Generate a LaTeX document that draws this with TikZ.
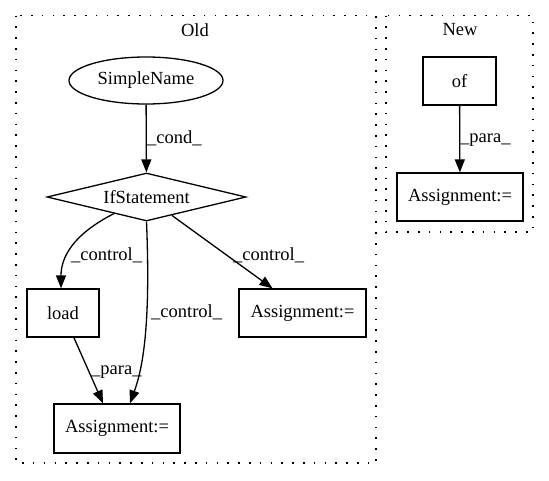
\documentclass[tikz,border=0pt]{standalone}
\usepackage{fontspec}
\setmainfont{Liberation Serif}
\usetikzlibrary{shapes.geometric,arrows.meta}
\begin{document}
\begin{tikzpicture}[x=1pt,y=-1pt,
  every node/.style={font=\fontsize{18.5}{22}\selectfont},
  box/.style={draw,line width=1.3pt,inner sep=0pt,minimum height=48pt},
  ell/.style={draw,ellipse,line width=1.3pt,inner sep=0pt,minimum width=154pt,minimum height=47pt},
  dia/.style={draw,diamond,aspect=4.15,line width=1.3pt,inner sep=0pt,minimum width=199pt,minimum height=48pt},
  edge/.style={draw,line width=1.3pt,-{Triangle[length=13pt,width=10pt]}},
  lbl/.style={anchor=west,inner sep=0pt},
  cluster/.style={draw,line width=1.6pt,dash pattern=on 1.6pt off 9.2pt}]
\path[fill=white] (0,0) rectangle (549,480);
\useasboundingbox (0,0) rectangle (549,480);
% clusters
\draw[cluster] (16,15.5) rectangle (376,463);
\draw[cluster] (386,15.5) rectangle (533,232);
\node (oldt) at (195,30) {Old};
\node (newt) at (460,30) {New};
% Old nodes
\node[ell] (sn) at (146,80.5) {SimpleName};
\node[dia] (if) at (146.5,197) {IfStatement};
\node[box,minimum width=72pt] (load) at (63,313) {load};
\node[box,minimum width=127pt] (a2) at (302.5,313) {Assignment:=};
\node[box,minimum width=126pt,minimum height=49pt] (a1) at (117,428.5) {Assignment:=};
% New nodes
\node[box,minimum width=73pt] (of) at (459.5,81) {of};
\node[box,minimum width=126pt] (a3) at (460,197) {Assignment:=};
% edges
\draw[edge] (sn) -- (if);
\node[lbl] (l1) at (147,138) {\_cond\_};
\draw[edge] (if) .. controls (72,235) and (61,258) .. ([xshift=-2pt]load.north);
\node[lbl] (l2) at (71,255) {\_control\_};
\draw[edge] (if.south) .. controls (151,330) and (142,370) .. ([xshift=13pt]a1.north);
\node[lbl] (l3) at (151,312) {\_control\_};
\draw[edge] (if) -- ([xshift=-30pt]a2.north);
\node[lbl] (l4) at (233,255) {\_control\_};
\draw[edge] (load) -- ([xshift=-14pt]a1.north);
\node[lbl] (l5) at (91,372) {\_para\_};
\draw[edge] (of) -- (a3);
\node[lbl] (l6) at (460,140) {\_para\_};
\end{tikzpicture}
\end{document}
